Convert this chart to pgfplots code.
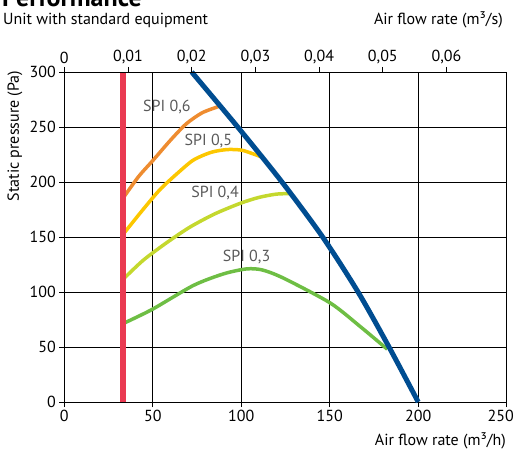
\documentclass[border=0pt]{standalone}
\usepackage{pgfplots}
\pgfplotsset{compat=1.18}
\usepackage{fontspec}
\setmainfont{PT Sans}
\definecolor{cred}{RGB}{234,58,82}
\definecolor{cblue}{RGB}{0,77,145}
\definecolor{corange}{RGB}{238,140,48}
\definecolor{cyellow}{RGB}{252,199,0}
\definecolor{clime}{RGB}{196,216,46}
\definecolor{cgreen}{RGB}{110,190,68}
\definecolor{ctext}{RGB}{90,90,90}
\begin{document}
\begin{tikzpicture}[x=1pt,y=1pt]
\path[use as bounding box] (0,0) rectangle (514,453);
\node[anchor=base west, font=\bfseries\fontsize{26}{28}\selectfont, inner sep=0pt] at (2,446) {Performance};
\node[anchor=base west, font=\fontsize{16}{18}\selectfont, inner sep=0pt] at (3,428) {Unit with standard equipment};
\node[anchor=base east, font=\fontsize{16}{18}\selectfont, inner sep=0pt] at (503,428) {Air flow rate (m³/s)};
\node[anchor=base east, font=\fontsize{16}{18}\selectfont, inner sep=0pt] at (506,8) {Air flow rate (m³/h)};
\node[rotate=90, font=\fontsize{16}{18}\selectfont, inner sep=0pt] at (15,317) {Static pressure (Pa)};
\begin{axis}[
  at={(64.3pt,51pt)}, anchor=south west, scale only axis,
  width=442.4pt, height=330pt,
  xmin=0, xmax=250, ymin=0, ymax=300,
  xtick={0,50,100,150,200,250}, ytick={0,50,100,150,200,250,300},
  xticklabels={0,50,100,150,200,{250\hspace*{12pt}}},
  grid=major, tick align=outside, xtick pos=bottom, ytick pos=left,
  major tick length=5pt,
  tick style={black, line width=0.8pt},
  major grid style={black, line width=0.8pt},
  axis line style={black, line width=0.9pt},
  ticklabel style={font=\fontsize{16}{18}\selectfont},
  /pgf/number format/assume math mode=true,
  clip=false,
]
\addplot[corange, line width=3.5pt, smooth, tension=0.45] coordinates {(33.5,186)(42,205)(50.3,220)(60,238)(69,253)(78,263)(87,268.5)};
\addplot[cyellow, line width=3.5pt, smooth, tension=0.45] coordinates {(33.5,153)(44,174)(54,193)(64,208)(73,220)(83,227)(92,229.5)(100,229)(106,226)(111,223)};
\addplot[clime, line width=3.5pt, smooth, tension=0.45] coordinates {(33.5,112)(44.7,129)(58,145)(71,159)(85,171)(99.4,180.6)(110,186)(120,189)(129,189.5)};
\addplot[cgreen, line width=3.5pt, smooth, tension=0.45] coordinates {(33.5,71.5)(49.8,84.3)(73,106)(90,116.5)(103,121)(112,120)(124,112.5)(150.3,90)(167.3,68.5)(182.5,48)};
\addplot[cred, line width=6pt] coordinates {(32.9,0)(32.9,300)};
\addplot[cblue, line width=5pt, smooth, tension=0.45] coordinates {(72,300)(98,250)(123,200)(146,150)(166,100)(183.5,50)(200,0)};
\node[text=ctext, font=\fontsize{16}{18}\selectfont] at (axis cs:58,268) {SPI 0,6};
\node[text=ctext, font=\fontsize{16}{18}\selectfont] at (axis cs:81.4,237) {SPI 0,5};
\node[text=ctext, font=\fontsize{16}{18}\selectfont] at (axis cs:85.2,190) {SPI 0,4};
\node[text=ctext, font=\fontsize{16}{18}\selectfont] at (axis cs:103,131.5) {SPI 0,3};
\end{axis}
\begin{axis}[
  at={(64.3pt,51pt)}, anchor=south west, scale only axis,
  width=442.4pt, height=330pt,
  xmin=0, xmax=0.0694444, ymin=0, ymax=300,
  axis x line*=top, axis y line=none,
  xtick={0,0.01,0.02,0.03,0.04,0.05,0.06},
  xticklabels={0,{0,01},{0,02},{0,03},{0,04},{0,05},{0,06}},
  scaled x ticks=false,
  tick align=outside, major tick length=5pt,
  tick style={black, line width=0.8pt},
  axis line style={black, line width=0.9pt},
  ticklabel style={font=\fontsize{16}{18}\selectfont},
]
\end{axis}
\end{tikzpicture}
\end{document}
